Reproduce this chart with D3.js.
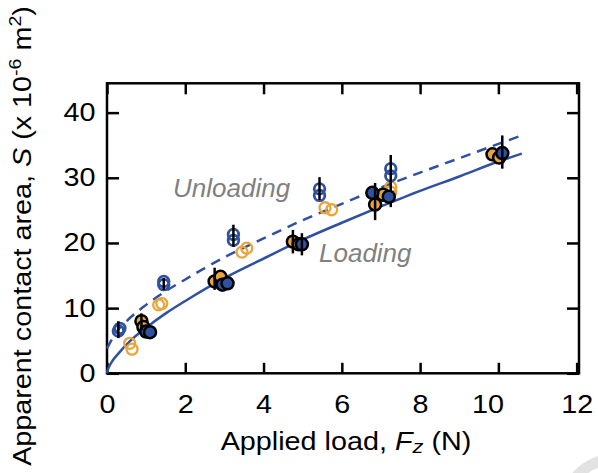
<!DOCTYPE html>
<html>
<head>
<meta charset="utf-8">
<script src="https://cdn.jsdelivr.net/npm/d3@7"></script>
<style>
  body { margin: 0; background: #fff; }
  svg { display: block; font-family: "Liberation Sans", Arial, sans-serif; }
</style>
</head>
<body>
<div id="chart"></div>
<script>
// values
const xTicks = [0, 2, 4, 6, 8, 10, 12];
const yTicks = [0, 10, 20, 30, 40];

// loading, sample 1 (orange filled, black edge)
const loadOrangeF = [0.88, 0.93, 2.75, 2.9, 4.75, 4.9, 6.85, 7.05, 9.85, 10.02];
const loadOrangeS = [8.0, 7.1, 14.1, 14.8, 20.2, 19.8, 25.9, 27.4, 33.6, 33.1];
const loadOrangeLo = [6.6, null, 12.8, null, 18.4, null, 23.5, null, null, null];
const loadOrangeHi = [9.2, null, 16.2, null, 22.0, null, 29.2, null, null, null];

// loading, sample 2 (blue filled, black edge)
const loadBlueF = [1.0, 1.1, 2.95, 3.08, 4.98, 6.78, 7.2, 10.1];
const loadBlueS = [6.4, 6.3, 13.6, 13.8, 19.8, 27.7, 27.1, 33.8];
const loadBlueLo = [null, null, null, null, 18.1, null, null, 31.4];
const loadBlueHi = [null, null, null, null, 21.5, null, null, 36.5];

// unloading, sample 2 (blue rings)
const unloadBlueF = [0.29, 0.33, 1.45, 1.45, 3.23, 3.23, 5.43, 5.43, 7.25, 7.25];
const unloadBlueS = [6.5, 6.9, 13.6, 14.1, 20.4, 21.3, 27.3, 28.3, 30.3, 31.4];
const unloadBlueLo = [5.4, null, 12.8, null, 19.4, null, 26.6, null, 25.5, null];
const unloadBlueHi = [8.0, null, 14.6, null, 22.8, null, 30.1, null, 33.5, null];

// unloading, sample 1 (orange rings)
const unloadOrangeF = [0.58, 0.64, 1.32, 1.4, 3.45, 3.57, 5.57, 5.74, 7.25, 7.25];
const unloadOrangeS = [4.6, 3.7, 10.5, 10.7, 18.6, 19.2, 25.4, 25.1, 28.6, 27.8];

// fitted curves, points
const fitLoadF = [0, 0.01, 0.05, 0.15, 0.3, 0.6, 1, 1.5, 2, 3, 4, 5, 6, 7, 8, 9, 10, 10.6];
const fitLoadS = [0, 0.3, 0.95, 2.0, 3.1, 5.0, 7.0, 9.2, 11.1, 14.6, 17.6, 20.5, 23.1, 25.6, 28.0, 30.2, 32.5, 33.7];
const fitUnloadF = [0, 0.25, 0.5, 1, 1.5, 2, 3, 4, 5, 6, 7, 8, 9, 10, 10.6];
const fitUnloadS = [3.8, 6.4, 8.0, 10.5, 12.6, 14.4, 17.8, 20.7, 23.5, 26.0, 28.5, 30.8, 33.0, 35.2, 36.5];

const blue = '#3050a0';
const orange = '#e9a53c';
const grey = '#808080';
const stretch = 'scale(1.15,1)';

const W = 598, H = 473;
const svg = d3.select('#chart').append('svg')
    .attr('width', W)
    .attr('height', H);
svg.append('rect').attr('width', W).attr('height', H).attr('fill', '#fff');

// faint watermark arc in the corner
svg.append('circle')
    .attr('cx', 612).attr('cy', 506).attr('r', 46)
    .attr('fill', 'none').attr('stroke', '#e2e2e2').attr('stroke-width', 11);

const x = d3.scaleLinear().domain([0, 12.06]).range([107, 579]);
const y = d3.scaleLinear().domain([0, 44.5]).range([373.3, 83.3]);

// axes: ticks pointing inward on all four sides
const axBottom = svg.append('g')
    .attr('transform', `translate(0,${y(0)})`)
    .call(d3.axisBottom(x).tickValues(xTicks).tickSize(-10.5).tickPadding(22).tickFormat(d3.format('d')));
const axLeft = svg.append('g')
    .attr('transform', `translate(${x(0)},0)`)
    .call(d3.axisLeft(y).tickValues(yTicks).tickSize(-12).tickPadding(10));
const axTop = svg.append('g')
    .attr('transform', `translate(0,${y.range()[1]})`)
    .call(d3.axisTop(x).tickValues(xTicks).tickSize(-11).tickFormat(''));
const axRight = svg.append('g')
    .attr('transform', `translate(${x.range()[1]},0)`)
    .call(d3.axisRight(y).tickValues(yTicks).tickSize(-12).tickFormat(''));

[axBottom, axLeft, axTop, axRight].forEach(g => {
    g.select('.domain').remove();
    g.selectAll('line').attr('stroke', '#000').attr('stroke-width', 2.5);
    g.selectAll('text')
        .attr('fill', '#000')
        .attr('font-size', 25)
        .attr('font-family', '"Liberation Sans", Arial, sans-serif')
        .attr('transform', stretch);
});
// the "10" label sits a little left of its tick in the original
axBottom.selectAll('text').filter(d => d === 10).attr('dx', -9.5);

svg.append('rect')
    .attr('x', x(0)).attr('y', y.range()[1])
    .attr('width', x.range()[1] - x(0))
    .attr('height', y(0) - y.range()[1])
    .attr('fill', 'none').attr('stroke', '#000').attr('stroke-width', 2.5);

// fitted curves
const line = d3.line().x(d => x(d[0])).y(d => y(d[1])).curve(d3.curveMonotoneX);
svg.append('path')
    .datum(d3.zip(fitUnloadF, fitUnloadS))
    .attr('d', line)
    .attr('fill', 'none').attr('stroke', blue).attr('stroke-width', 2.5)
    .attr('stroke-dasharray', '10,7');
svg.append('path')
    .datum(d3.zip(fitLoadF, fitLoadS))
    .attr('d', line)
    .attr('fill', 'none').attr('stroke', blue).attr('stroke-width', 2.5);

function drawMarkers(F, S, r, fill, stroke, sw) {
    svg.append('g').selectAll('circle')
        .data(d3.zip(F, S))
        .join('circle')
        .attr('cx', d => x(d[0]))
        .attr('cy', d => y(d[1]))
        .attr('r', r)
        .attr('fill', fill)
        .attr('stroke', stroke)
        .attr('stroke-width', sw);
}

function drawBars(F, lo, hi) {
    const bars = d3.zip(F, lo, hi).filter(d => d[1] !== null);
    svg.append('g').selectAll('line')
        .data(bars)
        .join('line')
        .attr('x1', d => x(d[0])).attr('x2', d => x(d[0]))
        .attr('y1', d => y(d[1])).attr('y2', d => y(d[2]))
        .attr('stroke', '#000').attr('stroke-width', 2.5);
}

drawMarkers(unloadOrangeF, unloadOrangeS, 5.5, 'none', orange, 2.3);
drawMarkers(unloadBlueF, unloadBlueS, 5.3, 'none', blue, 2.8);
drawBars(unloadBlueF, unloadBlueLo, unloadBlueHi);
drawMarkers(loadOrangeF, loadOrangeS, 6, orange, '#000', 2.5);
drawMarkers(loadBlueF, loadBlueS, 6, blue, '#000', 2.5);
drawBars(loadOrangeF, loadOrangeLo, loadOrangeHi);
drawBars(loadBlueF, loadBlueLo, loadBlueHi);

// annotations
svg.append('text')
    .attr('x', 173).attr('y', 197)
    .attr('font-size', 26).attr('font-style', 'italic').attr('fill', grey)
    .text('Unloading');
svg.append('text')
    .attr('x', 319).attr('y', 262)
    .attr('font-size', 26).attr('font-style', 'italic').attr('fill', grey)
    .text('Loading');

// axis titles
const xt = svg.append('text')
    .attr('transform', `translate(346,450) ${stretch}`)
    .attr('text-anchor', 'middle')
    .attr('font-size', 25);
xt.append('tspan').text('Applied load, ');
xt.append('tspan').attr('font-style', 'italic').text('F');
xt.append('tspan').attr('font-style', 'italic').attr('font-size', 19).attr('dy', 3).text('z');
xt.append('tspan').attr('dy', -3).text(' (N)');

const yt = svg.append('text')
    .attr('transform', `translate(31,236) rotate(-90) ${stretch}`)
    .attr('text-anchor', 'middle')
    .attr('font-size', 25);
yt.append('tspan').text('Apparent contact area, ');
yt.append('tspan').attr('font-style', 'italic').text('S');
yt.append('tspan').text(' (x 10');
yt.append('tspan').attr('font-size', 17).attr('dy', -10).text('-6');
yt.append('tspan').attr('dy', 10).text(' m');
yt.append('tspan').attr('font-size', 17).attr('dy', -10).text('2');
yt.append('tspan').attr('dy', 10).text(')');
</script>
</body>
</html>
